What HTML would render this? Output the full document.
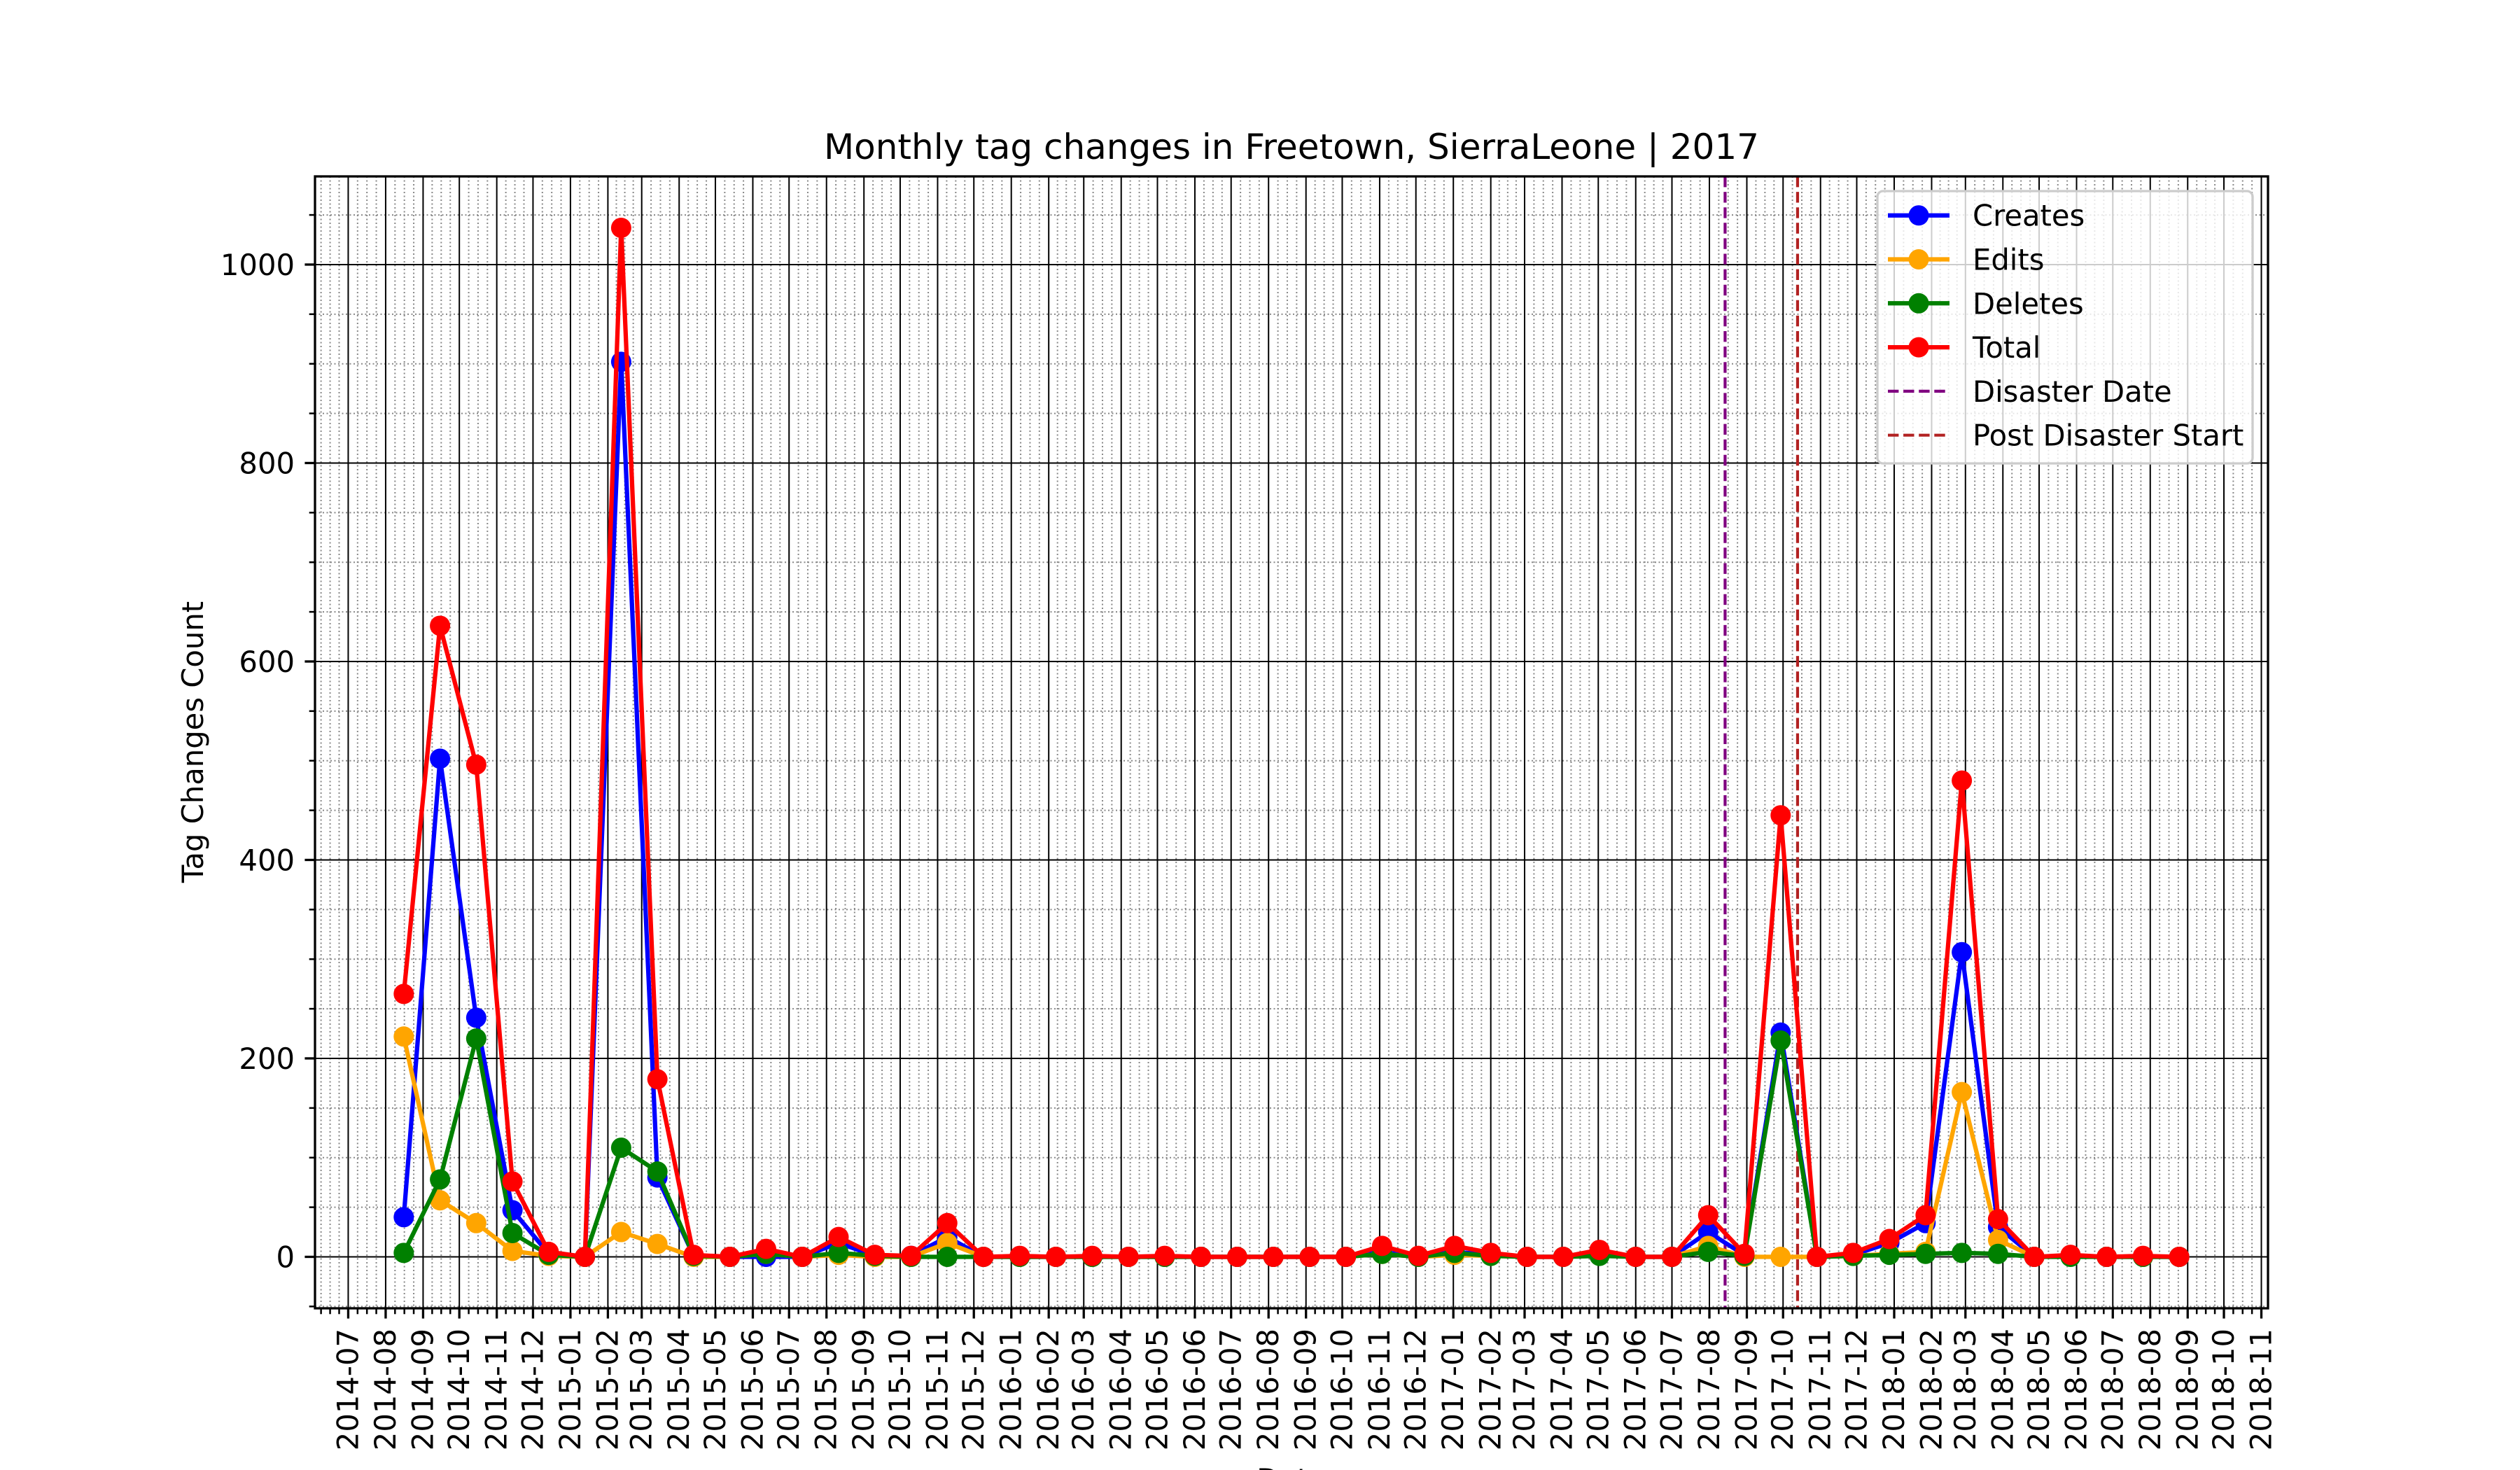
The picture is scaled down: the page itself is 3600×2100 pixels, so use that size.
<!DOCTYPE html>
<html><head><meta charset="utf-8"><style>
html,body{margin:0;padding:0;background:#fff}
svg{display:block;font-family:"DejaVu Sans","Liberation Sans",sans-serif}
</style></head><body>
<svg id="chart" width="3600" height="2100" viewBox="0 0 3600 2100" xmlns="http://www.w3.org/2000/svg">
<rect x="0" y="0" width="3600" height="2100" fill="#fff"/>
<g id="grid"></g>
<g id="marks"></g>
<g id="axes"></g>
<text x="1845" y="227" font-size="50" text-anchor="middle">Monthly tag changes in Freetown, SierraLeone | 2017</text>
<text transform="translate(290,1060) rotate(-90)" font-size="41.7" text-anchor="middle">Tag Changes Count</text>
<text x="1845" y="2128" font-size="41.7" text-anchor="middle">Date</text>
<g id="legend"></g>
</svg>
<script>
// data: days since 2014-07-01 of first point, step in days
const firstDay = 46;
const stepDays = 30;
const creates = [40,502,241,47,3,0,902,80,1,0,0,0,14,1,1,20,0,0,0,0,0,0,0,0,0,0,0,5,0,5,2,0,0,4,0,0,25,2,226,0,2,14,34,307,30,0,1,0,0,0];
const edits   = [222,57,34,6,1,0,25,13,0,0,3,0,2,0,0,14,0,0,0,0,0,0,0,0,0,0,0,3,0,2,1,0,0,2,0,0,11,0,0,0,1,3,5,166,17,0,1,0,0,0];
const deletes = [4,78,220,24,2,0,110,86,1,0,3,0,4,1,0,0,0,0,0,0,0,0,0,0,0,0,0,3,0,4,1,0,0,1,0,0,5,1,218,0,1,2,3,4,3,0,0,0,0,0];
const totals  = [265,636,496,76,5,0,1037,179,2,0,8,0,20,2,1,34,0,1,0,1,0,1,0,0,0,0,0,11,1,11,4,0,0,7,0,0,42,3,445,0,4,18,42,480,38,0,2,0,1,0];
const yTicks = [0,200,400,600,800,1000];
const disasterDay = 1140;
const postDisasterDay = 1200;

const NS="http://www.w3.org/2000/svg";
const L=450,R=3240,T=252,B=1869;
const xMinD=-27.5,xMaxD=1589.5,yMin=-51.85,yMax=1088.85;
const X=d=>L+(d-xMinD)/(xMaxD-xMinD)*(R-L);
const Y=v=>B-(v-yMin)/(yMax-yMin)*(B-T);
const base=Date.UTC(2014,6,1);
const dayOf=(y,m,dd)=>(Date.UTC(y,m,dd||1)-base)/86400000;
function mk(tag,attrs,parent){const e=document.createElementNS(NS,tag);for(const k in attrs)e.setAttribute(k,attrs[k]);parent.appendChild(e);return e;}
const grid=document.getElementById('grid'),axes=document.getElementById('axes'),marks=document.getElementById('marks');

const months=[];
for(let y=2014,m=5;;){months.push([y,m]);m++;if(m>11){m=0;y++;} if(y===2018&&m===11){months.push([y,m]);break;}}
months.forEach(([y,m])=>{const s=dayOf(y,m,1);const e=dayOf(m===11?y+1:y,(m+1)%12,1);for(let k=1;k<4;k++){const d=s+k*(e-s)/4;if(d>xMinD&&d<xMaxD){const x=X(d);
const gl=mk('line',{x1:x,x2:x,y1:T,y2:B,stroke:'#888','stroke-width':2,'stroke-dasharray':'2 3.5'},grid);
const tk=mk('line',{x1:x,x2:x,y1:B,y2:B+8.3,stroke:'#000','stroke-width':2.5},axes);}}});
for(let v=-50;v<=1050;v+=50){if(v%200===0)continue;const y=Y(v);
const gl=mk('line',{x1:L,x2:R,y1:y,y2:y,stroke:'#888','stroke-width':2,'stroke-dasharray':'2 3.5'},grid);
const tk=mk('line',{x1:L-8.3,x2:L,y1:y,y2:y,stroke:'#000','stroke-width':2.5},axes);}
months.forEach(([y,m])=>{const d=dayOf(y,m,1);if(d<xMinD||d>xMaxD)return;const x=X(d);
const gl=mk('line',{x1:x,x2:x,y1:T,y2:B,stroke:'#000','stroke-width':2},grid);
const tk=mk('line',{x1:x,x2:x,y1:B,y2:B+14.6,stroke:'#000','stroke-width':3.3},axes);
const lab=y+'-'+String(m+1).padStart(2,'0');
const t=mk('text',{transform:`translate(${x+14},${B+29}) rotate(-90)`,'font-size':41.7,'text-anchor':'end'},axes);t.textContent=lab;});
yTicks.forEach(v=>{const y=Y(v);
const gl=mk('line',{x1:L,x2:R,y1:y,y2:y,stroke:'#000','stroke-width':2},grid);
const tk=mk('line',{x1:L-14.6,x2:L,y1:y,y2:y,stroke:'#000','stroke-width':3.3},axes);
const t=mk('text',{x:L-29,y:y+15,'font-size':41.7,'text-anchor':'end'},axes);t.textContent=v;});
const sp=mk('rect',{x:L,y:T,width:R-L,height:B-T,fill:'none',stroke:'#000','stroke-width':3.3},axes);

[[disasterDay,'purple','disaster-date-line'],[postDisasterDay,'#b22222','post-disaster-start-line']].forEach(([d,c,n])=>{const x=X(d);
const l=mk('line',{x1:x,x2:x,y1:T,y2:B,stroke:c,'stroke-width':4.2,'stroke-dasharray':'15.4 6.7'},marks);});

const series=[[creates,'blue','creates'],[edits,'orange','edits'],[deletes,'green','deletes'],[totals,'red','total']];
series.forEach(([vals,c,n])=>{const g=mk('g',{},marks);
const pts=vals.map((v,i)=>X(firstDay+i*stepDays).toFixed(1)+','+Y(v).toFixed(1)).join(' ');
const pl=mk('polyline',{points:pts,fill:'none',stroke:c,'stroke-width':6.25,'stroke-linejoin':'round'},g);
vals.forEach((v,i)=>{const ci=mk('circle',{cx:X(firstDay+i*stepDays),cy:Y(v),r:14.5,fill:c},g);});});

const lg=document.getElementById('legend');
const box=mk('rect',{x:2682,y:273,width:536,height:389,rx:8,fill:'rgba(255,255,255,0.8)',stroke:'#ccc','stroke-width':3.3},lg);
const entries=[['Creates','blue',false],['Edits','orange',false],['Deletes','green',false],['Total','red',false],['Disaster Date','purple',true],['Post Disaster Start','#b22222',true]];
entries.forEach(([lab,c,dash],i)=>{const y=307.7+i*62.8;const g=mk('g',{},lg);
const ln=mk('line',{x1:2697,x2:2785,y1:y,y2:y,stroke:c,'stroke-width':dash?4.2:6.25},g);if(dash)ln.setAttribute('stroke-dasharray','15.4 6.7');

if(!dash){const m=mk('circle',{cx:2741,cy:y,r:14.5,fill:c},g);}
const t=mk('text',{x:2818,y:y+15,'font-size':41.7},g);t.textContent=lab;});
</script>
</body></html>
